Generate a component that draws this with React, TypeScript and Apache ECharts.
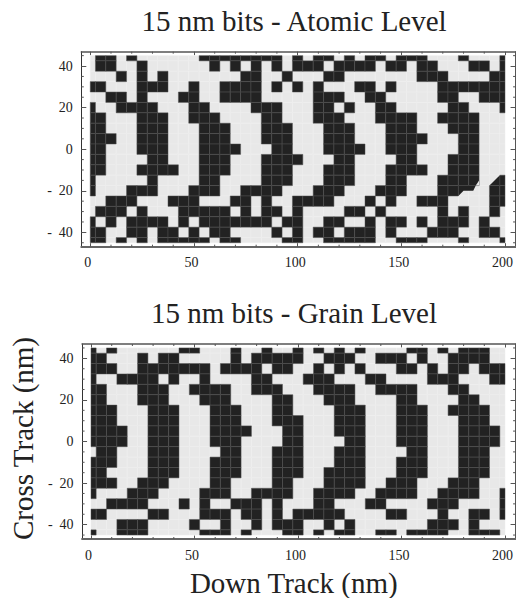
import React, { useEffect, useRef } from "react";
import * as echarts from "echarts";

const titles = ["15 nm bits - Atomic Level", "15 nm bits - Grain Level"];
const xLabel = "Down Track (nm)";
const yLabel = "Cross Track (nm)";
const xMajor = [0, 50, 100, 150, 200];
const yMajor = [-40, -20, 0, 20, 40];
const xMinor = [10, 20, 30, 40, 60, 70, 80, 90, 110, 120, 130, 140, 160, 170, 180, 190];
const yMinor = [-45, -35, -30, -25, -15, -10, -5, 5, 10, 15, 25, 30, 35, 45];
const rowCentres = [45, 40, 35, 30, 25, 20, 15, 10, 5, 0, -5, -10, -15, -20, -25, -30, -35, -40, -45];
const columnCount = 41;
const cellSize = 5;

// column indices (x = 5 * index) of the dark cells, one list per row, top row first
const atomicDark: number[][] = [
  [1, 2, 4, 11, 12, 13, 14, 15, 16, 17, 18, 20, 22, 23, 25, 27, 28, 30, 31, 32, 36, 40],
  [1, 2, 5, 12, 14, 16, 18, 20, 21, 22, 24, 25, 26, 27, 29, 30, 32, 33, 37, 38, 40],
  [3, 5, 7, 15, 16, 19, 23, 24, 32, 33, 34, 39, 40],
  [0, 1, 5, 6, 7, 10, 13, 14, 15, 16, 18, 20, 22, 26, 27, 29, 34, 35, 36, 37, 38, 39, 40],
  [2, 3, 5, 9, 10, 13, 14, 15, 16, 22, 23, 24, 27, 28, 34, 35, 38, 39, 40],
  [0, 3, 4, 5, 6, 10, 11, 16, 17, 18, 22, 23, 25, 28, 29, 35, 36, 40],
  [0, 1, 5, 6, 7, 10, 11, 12, 17, 18, 22, 23, 24, 28, 29, 30, 31, 34, 35, 36, 37],
  [0, 1, 5, 6, 7, 11, 12, 13, 17, 18, 19, 23, 24, 25, 29, 30, 31, 35, 36, 37],
  [0, 1, 2, 5, 6, 7, 11, 12, 13, 17, 18, 19, 23, 24, 25, 29, 30, 31, 32, 36, 37],
  [0, 1, 5, 6, 7, 11, 12, 13, 14, 18, 19, 23, 24, 25, 26, 29, 30, 31, 36, 37],
  [0, 1, 6, 7, 11, 12, 13, 17, 18, 19, 20, 24, 25, 30, 31, 35, 36, 37],
  [0, 1, 5, 6, 7, 8, 11, 12, 13, 17, 18, 19, 23, 24, 25, 29, 30, 31, 32, 35, 36, 37],
  [0, 6, 11, 12, 17, 18, 19, 23, 24, 25, 29, 30, 34, 35, 36, 37, 40],
  [0, 4, 5, 6, 10, 11, 12, 15, 16, 17, 18, 22, 23, 24, 28, 29, 30, 34, 35, 39, 40],
  [2, 3, 4, 8, 9, 10, 14, 15, 17, 20, 21, 22, 23, 27, 29, 32, 33, 34, 39, 40],
  [1, 2, 3, 5, 9, 10, 11, 12, 13, 15, 17, 18, 20, 25, 26, 28, 34, 36, 39],
  [0, 2, 4, 5, 6, 7, 9, 11, 12, 13, 14, 15, 16, 17, 19, 20, 23, 24, 27, 29, 30, 32, 34, 35, 36, 38],
  [0, 1, 4, 5, 7, 8, 10, 12, 13, 18, 20, 22, 23, 25, 26, 27, 29, 33, 34, 35, 38, 39],
  [0, 1, 3, 5, 7, 8, 9, 10, 11, 13, 14, 19, 20, 23, 24, 25, 26, 27, 30, 31, 32, 36, 40],
];

const grainDark: number[][] = [
  [0, 2, 9, 10, 14, 17, 20, 22, 24, 26, 31, 32, 34, 36, 37, 38],
  [0, 1, 5, 7, 8, 14, 16, 17, 18, 19, 20, 23, 24, 25, 28, 29, 30, 32, 35, 36, 37, 38],
  [0, 1, 2, 5, 6, 7, 8, 9, 10, 11, 13, 14, 15, 16, 18, 19, 22, 24, 26, 30, 31, 33, 35, 36, 38, 39, 40],
  [0, 3, 4, 5, 6, 8, 11, 16, 17, 21, 22, 23, 27, 28, 33, 34, 35, 39, 40],
  [0, 1, 5, 6, 7, 10, 11, 12, 13, 16, 17, 18, 22, 23, 24, 25, 28, 29, 30, 31, 35, 36],
  [0, 1, 5, 6, 7, 11, 12, 13, 18, 19, 23, 24, 25, 30, 31, 36, 37],
  [0, 1, 2, 6, 7, 8, 12, 13, 14, 18, 19, 24, 25, 26, 30, 31, 32, 35, 36, 37, 38],
  [0, 1, 2, 6, 7, 8, 12, 13, 14, 18, 19, 20, 24, 25, 26, 30, 31, 32, 36, 37, 38],
  [0, 1, 2, 3, 6, 7, 8, 12, 13, 14, 15, 19, 20, 24, 25, 26, 30, 31, 32, 36, 37, 38, 39],
  [0, 1, 2, 3, 6, 7, 8, 12, 13, 14, 19, 20, 25, 26, 30, 31, 32, 36, 37, 38, 39],
  [1, 2, 6, 7, 8, 13, 14, 18, 19, 20, 24, 25, 26, 31, 32, 36, 37, 38],
  [0, 1, 2, 6, 7, 8, 12, 13, 14, 18, 19, 20, 24, 25, 26, 30, 31, 32, 36, 37, 38],
  [0, 1, 6, 7, 8, 12, 13, 14, 18, 19, 20, 23, 24, 25, 26, 30, 31, 32, 36, 37, 38],
  [0, 1, 2, 5, 6, 7, 12, 13, 18, 19, 23, 24, 25, 26, 29, 30, 31, 35, 36, 37],
  [0, 4, 5, 6, 11, 12, 13, 16, 17, 18, 19, 22, 23, 24, 25, 28, 29, 30, 31, 34, 35, 36, 37, 40],
  [2, 3, 4, 5, 9, 11, 14, 15, 16, 18, 22, 23, 27, 28, 33, 34, 35, 40],
  [0, 1, 6, 7, 11, 12, 13, 15, 16, 18, 20, 21, 22, 23, 24, 29, 30, 34, 37, 38, 40],
  [3, 4, 5, 10, 13, 16, 18, 19, 20, 23, 25, 33, 34, 35, 37],
  [0, 3, 4, 5, 11, 12, 13, 15, 19, 20, 22, 24, 25, 28, 29, 31, 32, 33, 34, 37, 38, 39],
];

// cut corners in the atomic map, in nm
const atomicDarkPatches: number[][][] = [
  [[177.5, -17.5], [185.9, -17.5], [184.7, -20], [180, -20], [177.5, -22.5]],
  [[192.5, -17.5], [197.5, -12.5], [197.5, -17.5]],
];
const atomicLightPatches: number[][][] = [
  [[187.5, -15], [187.5, -17.5], [185.9, -17.5]],
  [[192.5, -12.5], [197.5, -12.5], [192.5, -17.5]],
];

const DARK = "#222222";
const LIGHT = "#e8e8e8";
const FRAME = "#555555";
const TEXT = "#222222";
const SERIF = "'Liberation Serif', 'Times New Roman', serif";

const GRID_LEFT = 81.3;
const GRID_WIDTH = 435.7;
const GRID_HEIGHT = 195;
const GRID_TOPS = [51.7, 344];
const X_MIN = -4.32;
const X_MAX = 205.1;
const Y_LIM = 46.9;

function cellData(dark: number[][]) {
  const light: number[][] = [];
  const black: number[][] = [];
  rowCentres.forEach((y, r) => {
    for (let k = 0; k < columnCount; k++) {
      (dark[r].includes(k) ? black : light).push([k * cellSize, y]);
    }
  });
  return { light, black };
}

function cellSeries(data: number[][], grid: number, fill: string, seam: string) {
  return {
    type: "custom",
    xAxisIndex: grid * 2,
    yAxisIndex: grid * 2,
    silent: true,
    clip: false,
    encode: { x: 0, y: 1 },
    data,
    renderItem: (_: any, api: any) => {
      const x = api.value(0);
      const y = api.value(1);
      const a = api.coord([Math.max(x - cellSize / 2, 0), Math.min(y + cellSize / 2, 45)]);
      const b = api.coord([Math.min(x + cellSize / 2, 200), Math.max(y - cellSize / 2, -45)]);
      return {
        type: "rect",
        shape: { x: a[0], y: a[1], width: b[0] - a[0], height: b[1] - a[1] },
        style: { fill, stroke: seam, lineWidth: 0.5 },
      };
    },
  };
}

function patchSeries(polys: number[][][], grid: number, fill: string) {
  return {
    type: "custom",
    xAxisIndex: grid * 2,
    yAxisIndex: grid * 2,
    silent: true,
    clip: false,
    encode: { x: 0, y: 1 },
    data: polys.map((p) => [p[0][0], p[0][1]]),
    renderItem: (params: any, api: any) => ({
      type: "polygon",
      shape: { points: polys[params.dataIndex].map((pt) => api.coord(pt)) },
      style: { fill },
    }),
  };
}

function minorSeries(grid: number, values: number[], horizontal: boolean, len: number) {
  return {
    type: "custom",
    xAxisIndex: grid * 2,
    yAxisIndex: grid * 2,
    silent: true,
    clip: false,
    encode: horizontal ? { y: 0 } : { x: 0 },
    data: values.map((v) => [v]),
    renderItem: (_: any, api: any) => {
      const v = api.value(0);
      const lineStyle = { stroke: FRAME, lineWidth: 1 };
      if (horizontal) {
        const l = api.coord([X_MIN, v]);
        const r = api.coord([X_MAX, v]);
        return {
          type: "group",
          children: [
            { type: "line", shape: { x1: l[0], y1: l[1], x2: l[0] + len, y2: l[1] }, style: lineStyle },
            { type: "line", shape: { x1: r[0], y1: r[1], x2: r[0] - len, y2: r[1] }, style: lineStyle },
          ],
        };
      }
      const b = api.coord([v, -Y_LIM]);
      const t = api.coord([v, Y_LIM]);
      return {
        type: "group",
        children: [
          { type: "line", shape: { x1: b[0], y1: b[1], x2: b[0], y2: b[1] - len }, style: lineStyle },
          { type: "line", shape: { x1: t[0], y1: t[1], x2: t[0], y2: t[1] + len }, style: lineStyle },
        ],
      };
    },
  };
}

function xAxes(grid: number, withName: boolean) {
  const common = { type: "value", gridIndex: grid, min: X_MIN, max: X_MAX, splitLine: { show: false } };
  return [
    {
      ...common,
      position: "bottom",
      name: withName ? xLabel : "",
      nameLocation: "middle",
      nameGap: 29,
      nameTextStyle: { fontFamily: SERIF, fontSize: 29, color: TEXT, padding: [0, 10, 0, 0] },
      axisLine: { show: true, onZero: false, lineStyle: { color: "#666666", width: 2 } },
      axisTick: { show: true, inside: true, length: 3.5, customValues: xMajor, lineStyle: { color: FRAME, width: 1 } },
      axisLabel: {
        show: true,
        customValues: xMajor,
        margin: 9,
        fontFamily: SERIF,
        fontSize: 14,
        color: TEXT,
        padding: [0, 5, 0, 0],
        showMinLabel: true,
        showMaxLabel: true,
        formatter: (v: number) => `${v}`,
      },
    },
    {
      ...common,
      position: "top",
      axisLine: { show: true, onZero: false, lineStyle: { color: FRAME, width: 1.5 } },
      axisTick: { show: true, inside: true, length: 3.5, customValues: xMajor, lineStyle: { color: FRAME, width: 1 } },
      axisLabel: { show: false },
    },
  ];
}

function yAxes(grid: number, withName: boolean) {
  const common = { type: "value", gridIndex: grid, min: -Y_LIM, max: Y_LIM, splitLine: { show: false } };
  return [
    {
      ...common,
      position: "left",
      name: withName ? yLabel : "",
      nameLocation: "middle",
      nameGap: 41,
      nameTextStyle: { fontFamily: SERIF, fontSize: 29, color: TEXT, padding: [0, 0, 0, 6] },
      axisLine: { show: true, onZero: false, lineStyle: { color: "#333333", width: 1 } },
      axisTick: { show: true, inside: true, length: 5, customValues: yMajor, lineStyle: { color: FRAME, width: 1 } },
      axisLabel: {
        show: true,
        customValues: yMajor,
        margin: 8.5,
        fontFamily: SERIF,
        fontSize: 14,
        color: TEXT,
        formatter: (v: number) => (v < 0 ? `-  ${-v}` : `${v}`),
      },
    },
    {
      ...common,
      position: "right",
      axisLine: { show: true, onZero: false, lineStyle: { color: FRAME, width: 1 } },
      axisTick: { show: true, inside: true, length: 5, customValues: yMajor, lineStyle: { color: FRAME, width: 1 } },
      axisLabel: { show: false },
    },
  ];
}

export default function App() {
  const ref = useRef<HTMLDivElement>(null);
  useEffect(() => {
    document.body.style.margin = "0";
    const chart = echarts.init(ref.current!, undefined, { renderer: "svg" });
    const atomic = cellData(atomicDark);
    const grain = cellData(grainDark);
    chart.setOption({
      animation: false,
      backgroundColor: "#ffffff",
      title: [
        { text: titles[0], left: 289, top: 1, textAlign: "center", textStyle: { fontFamily: SERIF, fontSize: 29, fontWeight: "normal", color: TEXT } },
        { text: titles[1], left: 289, top: 293, textAlign: "center", textStyle: { fontFamily: SERIF, fontSize: 29, fontWeight: "normal", color: TEXT } },
      ],
      grid: GRID_TOPS.map((top) => ({ left: GRID_LEFT, top, width: GRID_WIDTH, height: GRID_HEIGHT, containLabel: false })),
      xAxis: [...xAxes(0, false), ...xAxes(1, true)],
      yAxis: [...yAxes(0, false), ...yAxes(1, true)],
      series: [
        cellSeries(atomic.light, 0, LIGHT, "#efefef"),
        cellSeries(atomic.black, 0, DARK, "#505050"),
        patchSeries(atomicLightPatches, 0, LIGHT),
        patchSeries(atomicDarkPatches, 0, DARK),
        minorSeries(0, xMinor, false, 2),
        minorSeries(0, yMinor, true, 2.5),
        cellSeries(grain.light, 1, LIGHT, "#efefef"),
        cellSeries(grain.black, 1, DARK, "#505050"),
        minorSeries(1, xMinor, false, 2),
        minorSeries(1, yMinor, true, 2.5),
      ],
    });
    return () => chart.dispose();
  }, []);
  return <div ref={ref} style={{ position: "absolute", left: 0, top: 0, width: 516, height: 598 }} />;
}
